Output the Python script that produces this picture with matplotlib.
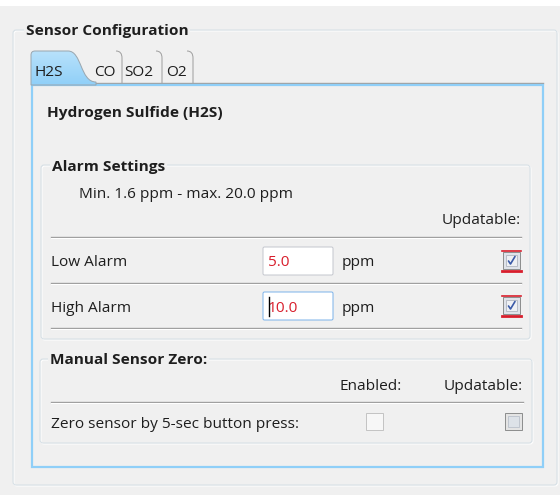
import numpy as np
import matplotlib.pyplot as plt
from matplotlib.colors import LinearSegmentedColormap
from matplotlib.patches import FancyBboxPatch, Rectangle, PathPatch
from matplotlib.path import Path

plt.rcParams['font.family'] = ['Open Sans', 'DejaVu Sans']

# Inhalt des Dialogs
panel_title = "Sensor Configuration"
tab_names = ["H2S", "CO", "SO2", "O2"]
gas_name = "Hydrogen Sulfide (H2S)"
alarm_title = "Alarm Settings"
range_text = "Min. 1.6 ppm - max. 20.0 ppm"
alarm_labels = ["Low Alarm", "High Alarm"]
alarm_values = ["5.0", "10.0"]
alarm_unit = "ppm"
alarm_updatable = [True, True]
col_updatable = "Updatable:"
col_enabled = "Enabled:"
zero_title = "Manual Sensor Zero:"
zero_label = "Zero sensor by 5-sec button press:"
zero_enabled = False
zero_updatable = False

BG = "#f0f0f0"
TXT = "#1e1e1e"
GRAY = "#a0a0a0"
BLUE = "#8fcff8"
RED = "#d81e2c"
FS = 11.1

fig = plt.figure(figsize=(5.6, 4.95), dpi=100)
fig.patch.set_facecolor(BG)
ax = fig.add_axes([0, 0, 1, 1])
ax.set_xlim(0, 560)
ax.set_ylim(495, 0)
ax.axis("off")

PX = 0.72  # 1 Pixel in Punkt


def rbox(x0, y0, x1, y1, ec, fc="none", lw=PX, r=3, z=1):
    ax.add_patch(FancyBboxPatch((x0, y0), x1 - x0, y1 - y0,
                                boxstyle=f"round,pad=0,rounding_size={r}",
                                ec=ec, fc=fc, lw=lw, zorder=z))


def label(x, y, s, bold=False, ha="left", color=TXT, bg=None, z=5):
    kw = {}
    if bg:
        kw["bbox"] = dict(fc=bg, ec="none", pad=1.2)
    ax.text(x, y, s, fontsize=FS, fontweight="bold" if bold else "normal",
            ha=ha, va="center_baseline", color=color, zorder=z, **kw)


def group(x0, y0, x1, y1, title, tx):
    rbox(x0 + 1, y0 + 1, x1 + 1, y1 + 1, ec="white")
    rbox(x0, y0, x1, y1, ec="#d5dfe5")
    label(tx, y0, title, bold=True, bg=BG)


def separator(x0, x1, y):
    ax.plot([x0, x1], [y, y], color=GRAY, lw=1.0, zorder=2)
    ax.plot([x0, x1], [y + 1, y + 1], color="white", lw=PX, zorder=2)


def checkbox(x0, y0, checked, style):
    s = 17
    if style == "alarm":
        ax.add_patch(Rectangle((x0, y0), s, s, fc="#dfe3ea", ec="#8e8f8f", lw=PX, zorder=3))
        ax.add_patch(Rectangle((x0 + 3, y0 + 3), s - 6, s - 6, fc="#eef0f4", ec="#b9bec7", lw=PX, zorder=3))
        ax.plot([x0 - 1, x0 + s + 1], [y0 - 1.5, y0 - 1.5], color=RED, lw=1.2, zorder=4)
        ax.plot([x0 - 1, x0 + s + 1], [y0 + s + 2, y0 + s + 2], color=RED, lw=2.0, zorder=4)
    elif style == "disabled":
        ax.add_patch(Rectangle((x0, y0), s, s, fc="#f7f7f7", ec="#c4c4c4", lw=PX, zorder=3))
    else:
        ax.add_patch(Rectangle((x0, y0), s, s, fc="#e4e4e4", ec="#8e8f8f", lw=PX, zorder=3))
        ax.add_patch(Rectangle((x0 + 3, y0 + 3), s - 6, s - 6, fc="#dde2e8", ec="#c0c6cf", lw=PX, zorder=3))
    if checked:
        ax.plot([x0 + 5.5, x0 + 7.5, x0 + 12], [y0 + 9, y0 + 12, y0 + 4.5],
                color="#3a5aa8", lw=1.2, zorder=4, solid_capstyle="round")


def textbox(x0, y0, x1, y1, value, focused):
    ec = "#7eb4ea" if focused else "#c5c8cf"
    rbox(x0, y0, x1, y1, ec=ec, fc="white", lw=PX, r=1.5, z=3)
    ax.text(x0 + 5, (y0 + y1) / 2, value, fontsize=FS, color=RED,
            ha="left", va="center_baseline", zorder=4)
    if focused:
        ax.plot([x0 + 6, x0 + 6], [y0 + 5, y1 - 4], color="black", lw=1.0, zorder=5)


# weisser Streifen oben
ax.add_patch(Rectangle((0, 0), 560, 6, fc="white", ec="none", zorder=0))

# aeussere Gruppe
group(13, 30, 557, 485, panel_title, 26)

# Register-Panel
ax.plot([95, 543], [83, 83], color=GRAY, lw=1.0, zorder=2)
ax.add_patch(Rectangle((31.5, 85), 511, 382, fc="none", ec=BLUE, lw=1.6, zorder=2))

# aktiver Reiter
tab_path = Path([(31, 85), (31, 55), (31, 51), (35, 51), (68, 51),
                 (82, 51), (80, 82), (96, 82), (96, 85), (31, 85)],
                [Path.MOVETO, Path.LINETO, Path.CURVE3, Path.CURVE3, Path.LINETO,
                 Path.CURVE4, Path.CURVE4, Path.CURVE4, Path.LINETO, Path.CLOSEPOLY])
grad = np.linspace(0, 1, 64).reshape(-1, 1)
cmap = LinearSegmentedColormap.from_list("tab", ["#b9e2fb", "#8fcff8"])
im = ax.imshow(grad, extent=(30, 97, 86, 50), cmap=cmap, aspect="auto", zorder=2)
pp = PathPatch(tab_path, fc="none", ec="#9aa7b0", lw=PX, zorder=3)
ax.add_patch(pp)
im.set_clip_path(pp)
ax.set_xlim(0, 560)
ax.set_ylim(495, 0)

# inaktive Reiter
for xr in [122, 162, 193]:
    curl = Path([(xr - 6, 51), (xr, 51), (xr, 58), (xr, 83)],
                [Path.MOVETO, Path.CURVE3, Path.CURVE3, Path.LINETO])
    ax.add_patch(PathPatch(curl, fc="none", ec=GRAY, lw=PX, zorder=3))

tab_x = [34, 94, 124, 166]
for name, x in zip(tab_names, tab_x):
    label(x, 70, name)

label(47, 112, gas_name, bold=True)

# Alarm-Gruppe
group(41, 165, 530, 339, alarm_title, 52)
label(79, 192, range_text)
label(521, 219, col_updatable, ha="right")
separator(51, 521, 237)
row_y = [261, 306]
for i, (lab, val, upd) in enumerate(zip(alarm_labels, alarm_values, alarm_updatable)):
    y = row_y[i]
    label(51, y, lab)
    textbox(263, y - 14, 333, y + 14, val, focused=(i == 1))
    label(342, y, alarm_unit)
    checkbox(503, y - 9, upd, "alarm")
separator(51, 521, 283)
separator(51, 521, 328)

# Manuelle Nullung
group(40, 359, 532, 443, zero_title, 50)
label(402, 385, col_enabled, ha="right")
label(523, 385, col_updatable, ha="right")
separator(51, 523, 402)
label(51, 423, zero_label)
checkbox(366, 413, zero_enabled, "disabled")
checkbox(505, 413, zero_updatable, "plain")

fig.savefig("out.png", dpi=100, facecolor=BG)
